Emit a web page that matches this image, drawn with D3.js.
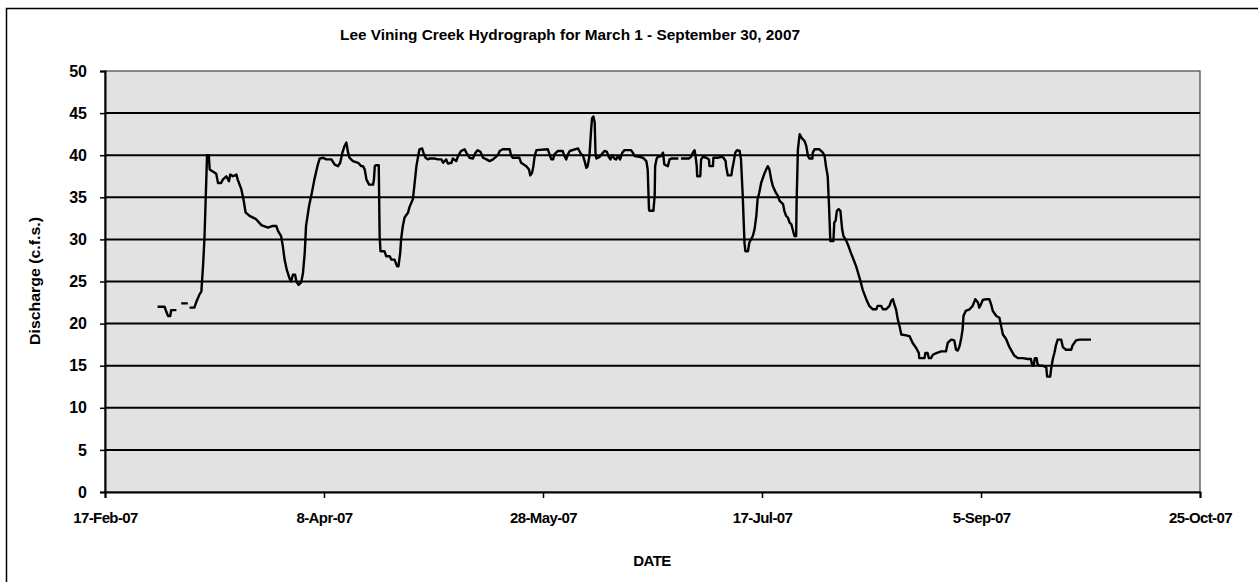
<!DOCTYPE html>
<html>
<head>
<meta charset="utf-8">
<script src="https://cdn.jsdelivr.net/npm/d3@7"></script>
<style>
  html, body { margin: 0; padding: 0; background: #ffffff; }
  svg { display: block; }
  text { font-family: "Liberation Sans", Arial, sans-serif; fill: #000; }
</style>
</head>
<body>
<svg id="chart" width="1258" height="582"></svg>
<script>
// ---------------- data ----------------
const chartTitle = "Lee Vining Creek Hydrograph for March 1 - September 30, 2007";
const yAxisTitle = "Discharge (c.f.s.)";
const xAxisTitle = "DATE";
const seriesStart = "2007-03-01";
const xTickLabels = ["17-Feb-07", "8-Apr-07", "28-May-07", "17-Jul-07", "5-Sep-07", "25-Oct-07"];
const yTickValues = [0, 5, 10, 15, 20, 25, 30, 35, 40, 45, 50];

// days since March 1, 2007 (fractional = part of a day)
const obsDay = [
  0, 1.6, 2.0, 2.4, 2.9, 3.1, 4.3, 4.8, 5.4, 6.9, 7.1, 7.3, 8.4, 8.8, 9.6, 10.0, 10.4, 10.7, 11.0, 11.3, 11.7, 11.9,
  13.4, 13.8, 14.5, 14.9, 15.7, 16.3, 16.6, 17.2, 18.0, 18.3, 19.1, 19.6, 20.1, 21.0, 22.5, 23.7, 25.2, 26.3,
  27.1, 27.5, 28.2, 28.6, 29.0, 29.5, 30.1, 30.5, 30.9, 31.4, 31.7, 32.2, 32.8, 33.2, 33.6, 33.9, 34.6, 35.1,
  35.8, 36.5,
  37.0, 37.8, 38.5, 39.7, 40.4, 41.2, 41.7, 42.2, 42.7, 43.1, 43.5, 43.8, 44.6, 45.8, 46.5, 46.9, 47.3, 47.7,
  48.3, 49.2, 49.4, 49.6, 49.8, 50.5, 50.7, 50.9, 51.8, 52.2, 53.0, 53.4, 54.1, 54.7, 55.0, 55.4, 55.6, 56.0,
  56.4, 57.2, 57.5, 58.3, 58.7, 59.1, 59.5, 59.8, 60.4, 60.7, 61.2, 61.7, 62.1, 63.3, 64.0, 64.8, 65.2, 65.9,
  66.3, 67.1, 67.4, 68.2, 68.6, 69.3, 70.1, 70.5, 71.2, 72.0, 72.6, 73.1, 73.7, 74.3, 75.1,
  75.8, 76.6, 77.7, 78.1, 78.8, 80.4, 80.7, 81.1, 82.6, 83.0, 84.2, 84.8, 85.1, 85.5, 85.8, 86.1, 86.5, 89.1,
  89.5, 89.9, 90.3, 90.6, 91.4, 92.5, 92.9, 93.3, 93.7, 94.1, 96.0, 96.3, 96.7, 97.1, 97.5, 97.9, 98.2, 98.6,
  99.0, 99.2, 99.5, 99.8, 100.0, 100.2, 100.9, 101.7, 102.1, 102.6, 103.0, 103.4, 103.8, 104.3, 104.7, 105.1,
  105.6, 106.1, 106.6, 108.1, 108.5, 108.9, 110.0, 110.8, 111.6, 111.9, 112.2, 112.3, 113.2, 113.5, 113.6,
  113.9, 114.2, 115.0, 115.4,
  115.7, 116.5, 116.9, 117.3, 118.9, 119.2, 119.5, 121.3, 121.8, 122.2, 122.6, 122.8, 123.1, 123.2, 123.9,
  124.1, 124.5, 125.3, 125.9, 126.0, 126.8, 126.9, 127.9, 128.7, 129.2, 129.7, 129.8, 130.2, 131.0, 131.2,
  131.5, 131.9, 132.3, 132.9, 133.2, 133.6, 134.0, 134.2, 134.8, 135.1, 135.9, 136.3, 136.7, 137.0, 137.4,
  137.8, 138.6, 139.3, 139.7, 140.1, 140.5, 141.1, 141.6, 142.0, 142.8, 143.1, 143.5, 143.9, 144.3, 144.7,
  145.0, 145.4, 145.8, 145.9, 146.2, 146.6, 147.0, 147.3, 147.7, 148.1, 148.5, 148.8, 149.5, 149.6, 150.0,
  151.1, 151.9, 152.3, 152.6, 153.0, 153.3, 153.6, 154.3, 154.5, 154.8, 155.1, 155.5, 155.9, 156.3, 156.6,
  157.1, 157.6, 158.3, 159.5, 160.4, 161.0, 161.8, 162.5, 163.3, 164.1, 164.4, 165.2, 165.6, 166.3, 167.1,
  167.5, 167.9, 168.2, 168.6, 169.0, 169.4, 169.8, 170.9, 171.7, 172.4, 173.2, 173.8, 173.9, 175.1, 175.3,
  175.8, 176.1, 176.6, 177.0, 177.8, 178.9, 180.0, 180.4, 181.2, 181.9, 182.3, 182.7, 183.1, 183.5, 183.8,
  184.0, 184.5, 185.4, 186.1, 186.7, 187.3, 187.6, 188.0, 188.4, 189.2, 189.9, 190.3, 190.7, 191.5, 192.2,
  192.6, 193.0, 193.7, 194.5, 195.6, 196.4, 197.5, 198.7, 199.4, 199.7, 200.0, 200.3, 200.7, 200.9, 201.3,
  202.1, 202.9, 203.1, 203.8, 204.0, 204.4, 204.8, 205.1, 205.5, 206.3, 206.7, 207.4, 208.6, 208.9, 209.7,
  210.5, 213.1
];
// discharge in c.f.s. (null = missing record)
const obsCfs = [
  22.0, 22.0, 21.4, 20.9, 20.9, 21.6, 21.6, null, 22.4, 22.4, null, 21.9, 21.9, 22.5, 23.5, 23.8, 27.0, 30.0, 35.0, 40.0, 40.0, 38.3,
  37.8, 36.7, 36.7, 37.1, 37.5, 36.9, 37.7, 37.5, 37.7, 37.1, 36.0, 34.8, 33.2, 32.8, 32.4, 31.7, 31.4, 31.6,
  31.6, 31.0, 30.4, 29.2, 27.6, 26.4, 25.4, 25.0, 25.8, 25.8, 25.0, 24.6, 24.9, 26.0, 28.4, 31.6, 34.0, 35.2,
  37.1, 38.7,
  39.6, 39.7, 39.5, 39.5, 38.9, 38.7, 39.1, 40.3, 41.1, 41.5, 40.3, 39.7, 39.3, 39.1, 38.7, 38.7, 38.3, 37.1,
  36.5, 36.5, 37.1, 38.7, 38.8, 38.8, 30.4, 28.6, 28.6, 28.0, 28.0, 27.6, 27.6, 26.8, 26.8, 28.4, 30.0, 31.6,
  32.6, 33.2, 33.8, 34.8, 36.7, 38.7, 39.9, 40.7, 40.8, 40.3, 39.7, 39.5, 39.6, 39.6, 39.5, 39.5, 39.1, 39.5,
  39.0, 39.1, 39.6, 39.3, 39.9, 40.5, 40.7, 40.3, 39.7, 39.6, 40.3, 40.6, 40.4, 39.7, 39.5,
  39.3, 39.5, 40.0, 40.5, 40.7, 40.7, 40.0, 39.7, 39.7, 39.1, 38.7, 38.3, 37.6, 37.9, 38.7, 39.9, 40.6, 40.7,
  40.1, 39.5, 39.5, 40.1, 40.5, 40.5, 39.9, 39.5, 40.1, 40.5, 40.8, 40.5, 40.1, 40.0, 39.3, 38.5, 38.7, 39.9,
  43.1, 44.4, 44.6, 43.9, 40.0, 39.6, 39.8, 40.3, 40.5, 40.4, 39.8, 39.5, 40.0, 39.6, 39.5, 39.9,
  39.5, 40.3, 40.6, 40.6, 40.3, 39.9, 39.8, 39.7, 39.3, 38.3, 33.6, 33.4, 33.4, 35.2, 38.7,
  39.5, 39.8, 39.9, 40.3,
  38.9, 38.7, 39.5, 39.6, 39.6, null, 39.6, 39.6, 39.8, 40.3, 40.6, 40.0, 38.7, 37.5, 37.5,
  39.5, 39.8, 39.7, 39.5, 38.7, 38.7, 39.7, 39.7, 39.8, 39.7, 39.3, 38.7, 37.6, 37.6, 38.3,
  39.1, 40.3, 40.6, 40.5, 39.5, 35.2, 29.6, 28.6, 28.6, 29.6, 30.4, 31.2, 32.8, 34.8, 35.6,
  36.7, 37.9, 38.7, 38.3, 37.1, 36.3, 35.6, 35.2, 34.6, 34.2, 33.4, 32.8, 32.6, 32.0, 31.8,
  31.2, 30.4, 30.4, 34.4, 40.7, 42.5, 42.1, 41.9, 41.7, 41.1, 39.9, 39.6, 39.6, 40.3, 40.7,
  40.7, 40.3, 39.9, 38.7, 37.5, 34.0, 29.8, 29.8, 32.0, 32.2, 33.4, 33.6, 33.4, 31.2, 30.4,
  30.0, 29.4, 28.4, 26.8, 25.2, 24.0, 22.9, 22.1, 21.7, 21.7, 22.1, 22.1, 21.7, 21.7, 22.1,
  22.7, 22.9, 22.3, 21.7, 20.5, 19.7, 18.7, 18.6, 18.5, 17.7, 17.1, 16.5, 15.9, 15.9, 16.5,
  16.5, 15.9, 15.9, 16.3, 16.5, 16.7, 16.7, 17.7, 18.1, 18.0, 16.9, 16.8, 17.3, 18.3, 19.3,
  20.9, 21.5, 21.7, 22.1, 22.9, 22.5, 21.9, 22.3, 22.8, 22.9, 22.9, 22.3, 21.5, 20.9, 20.7,
  19.7, 18.7, 18.2, 17.2, 16.2, 15.9, 15.9, 15.8, 15.8, 15.0, 15.0, 15.9, 15.9, 15.2, 15.0,
  15.0, 14.8, 13.7, 13.7, 14.6, 15.8, 16.6, 17.4, 18.1, 18.1, 17.2, 16.9, 16.9, 17.4, 18.0,
  18.1, 18.1
];

// ---------------- layout ----------------
const svg = d3.select("#chart");
const W = 1258, H = 582;
const plot = { left: 105, right: 1200, top: 71, bottom: 492 };

const parseTick = d3.utcParse("%d-%b-%y");
const tickDates = xTickLabels.map(parseTick);
const start = d3.utcParse("%Y-%m-%d")(seriesStart);

const x = d3.scaleUtc()
  .domain([tickDates[0], tickDates[tickDates.length - 1]])
  .range([plot.left, plot.right]);
const y = d3.scaleLinear().domain([0, 50]).range([plot.bottom, plot.top]);

const series = obsDay.map((d, i) => ({
  date: new Date(start.getTime() + d * 864e5),
  v: obsCfs[i]
}));

// outer chart border
svg.append("rect")
  .attr("x", 6.5).attr("y", 8.5)
  .attr("width", W + 10).attr("height", H + 10)
  .attr("fill", "none").attr("stroke", "#000").attr("stroke-width", 1.5);

// plot area background
svg.append("rect")
  .attr("x", plot.left).attr("y", plot.top)
  .attr("width", plot.right - plot.left).attr("height", plot.bottom - plot.top)
  .attr("fill", "#e2e2e2").attr("stroke", "#444").attr("stroke-width", 1.2);

// horizontal gridlines
svg.append("g")
  .selectAll("line")
  .data(yTickValues.filter(v => v > 0 && v < 50))
  .join("line")
  .attr("x1", plot.left).attr("x2", plot.right)
  .attr("y1", d => y(d)).attr("y2", d => y(d))
  .attr("stroke", "#000").attr("stroke-width", 2);

// y axis
const yAxis = svg.append("g")
  .attr("transform", `translate(${plot.left},0)`)
  .call(d3.axisLeft(y).tickValues(yTickValues).tickSize(5).tickPadding(13).tickFormat(d3.format("d")));
yAxis.select(".domain").attr("stroke", "#000").attr("stroke-width", 2);
yAxis.selectAll(".tick line").attr("stroke", "#000").attr("stroke-width", 1.5);
yAxis.selectAll(".tick text")
  .attr("font-family", "Liberation Sans, Arial, sans-serif")
  .attr("font-size", 16).attr("font-weight", "bold").attr("fill", "#000");

// x axis
const xAxis = svg.append("g")
  .attr("transform", `translate(0,${plot.bottom})`)
  .call(d3.axisBottom(x).tickValues(tickDates).tickSize(6).tickPadding(14)
    .tickFormat((d, i) => xTickLabels[i]));
xAxis.select(".domain").attr("stroke", "#000").attr("stroke-width", 2);
xAxis.selectAll(".tick line").attr("stroke", "#000").attr("stroke-width", 1.5);
xAxis.selectAll(".tick text")
  .attr("font-family", "Liberation Sans, Arial, sans-serif")
  .attr("font-size", 15).attr("font-weight", "bold").attr("fill", "#000")
  .attr("letter-spacing", "-0.6px");

// data line
const line = d3.line()
  .defined(d => d.v !== null)
  .x(d => x(d.date))
  .y(d => y(d.v))
  .curve(d3.curveLinear);
svg.append("path")
  .datum(series)
  .attr("d", line)
  .attr("fill", "none")
  .attr("stroke", "#000")
  .attr("stroke-width", 2.4)
  .attr("stroke-linejoin", "round");

// titles
svg.append("text")
  .attr("x", 570).attr("y", 40)
  .attr("text-anchor", "middle")
  .attr("font-size", 14).attr("font-weight", "bold")
  .attr("textLength", 460).attr("lengthAdjust", "spacingAndGlyphs")
  .text(chartTitle);

svg.append("text")
  .attr("transform", "translate(40,281) rotate(-90)")
  .attr("text-anchor", "middle")
  .attr("font-size", 14).attr("font-weight", "bold")
  .attr("textLength", 128).attr("lengthAdjust", "spacingAndGlyphs")
  .text(yAxisTitle);

svg.append("text")
  .attr("x", 652).attr("y", 566)
  .attr("text-anchor", "middle")
  .attr("font-size", 15).attr("font-weight", "bold")
  .attr("letter-spacing", "-0.6px")
  .text(xAxisTitle);
</script>
</body>
</html>
